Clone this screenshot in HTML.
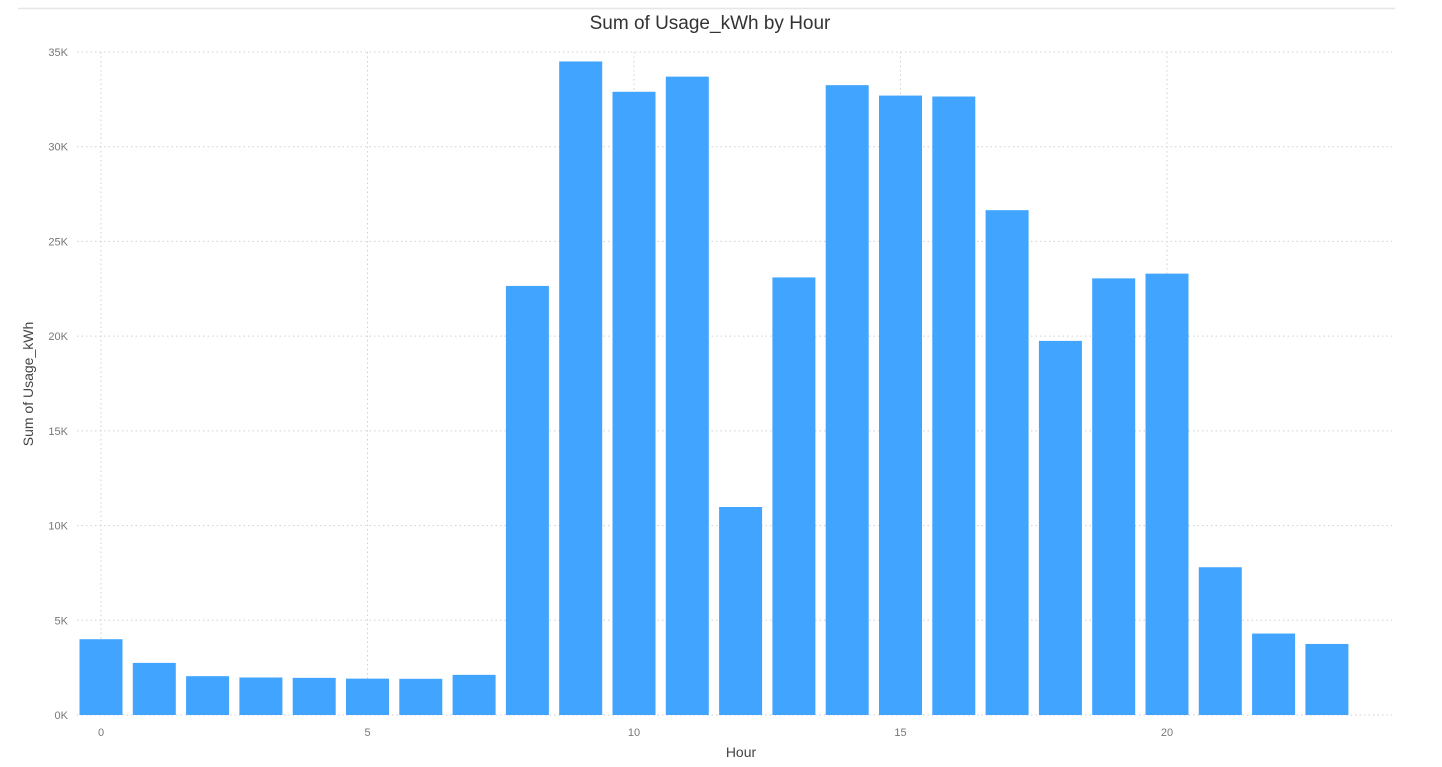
<!DOCTYPE html>
<html><head><meta charset="utf-8"><style>
html,body{margin:0;padding:0;background:#fff;width:1442px;height:767px;overflow:hidden}
text{font-family:"Liberation Sans",sans-serif}
</style></head><body>
<svg id="chart" width="1442" height="767">
<line x1="18" y1="8.5" x2="1395" y2="8.5" stroke="#e6e6e6" stroke-width="1.5"/>
<text x="710" y="29" text-anchor="middle" font-size="19" fill="#333">Sum of Usage_kWh by Hour</text>
<g id="grid"></g><g id="bars"></g><g id="axes"></g>
<text x="741" y="757" text-anchor="middle" font-size="14" fill="#444">Hour</text>
<text transform="translate(33,384) rotate(-90)" text-anchor="middle" font-size="14" fill="#444">Sum of Usage_kWh</text>
</svg>
<script>
const hours=[0,1,2,3,4,5,6,7,8,9,10,11,12,13,14,15,16,17,18,19,20,21,22,23];
const usage=[4000,2750,2050,1980,1960,1920,1910,2120,22650,34500,32900,33700,10980,23100,33250,32700,32650,26650,19750,23050,23300,7800,4300,3750];
const yTicks=[0,5000,10000,15000,20000,25000,30000,35000];
const yTickLabels=["0K","5K","10K","15K","20K","25K","30K","35K"];
const xTicks=[0,5,10,15,20];
const NS="http://www.w3.org/2000/svg";
const y=v=>715-v*(663/35000);
const x=h=>101+h*53.3;
const bw=43;
const grid=document.getElementById('grid'),bars=document.getElementById('bars'),axes=document.getElementById('axes');
yTicks.forEach((t,i)=>{
 const l=document.createElementNS(NS,'line');
 l.setAttribute('x1',77);l.setAttribute('x2',1392);l.setAttribute('y1',y(t));l.setAttribute('y2',y(t));
 l.setAttribute('stroke','#d0d0d0');l.setAttribute('stroke-dasharray','1.5 3');
 
 
 grid.appendChild(l);
 const tx=document.createElementNS(NS,'text');
 tx.setAttribute('x',68);tx.setAttribute('y',y(t)+4);tx.setAttribute('text-anchor','end');
 tx.setAttribute('font-size','11');tx.setAttribute('fill','#777');tx.textContent=yTickLabels[i];
 
 
 axes.appendChild(tx);
});
xTicks.forEach(t=>{
 const l=document.createElementNS(NS,'line');
 l.setAttribute('x1',x(t));l.setAttribute('x2',x(t));l.setAttribute('y1',52);l.setAttribute('y2',715);
 l.setAttribute('stroke','#d0d0d0');l.setAttribute('stroke-dasharray','1.5 3');
 
 
 grid.appendChild(l);
 const tx=document.createElementNS(NS,'text');
 tx.setAttribute('x',x(t));tx.setAttribute('y',736);tx.setAttribute('text-anchor','middle');
 tx.setAttribute('font-size','11');tx.setAttribute('fill','#777');tx.textContent=t;
 
 
 axes.appendChild(tx);
});
hours.forEach((h,i)=>{
 const r=document.createElementNS(NS,'rect');
 r.setAttribute('x',x(h)-bw/2);r.setAttribute('y',y(usage[i]));
 r.setAttribute('width',bw);r.setAttribute('height',y(0)-y(usage[i]));
 r.setAttribute('fill','#41a4ff');
 
 
 bars.appendChild(r);
});
</script>
</body></html>
